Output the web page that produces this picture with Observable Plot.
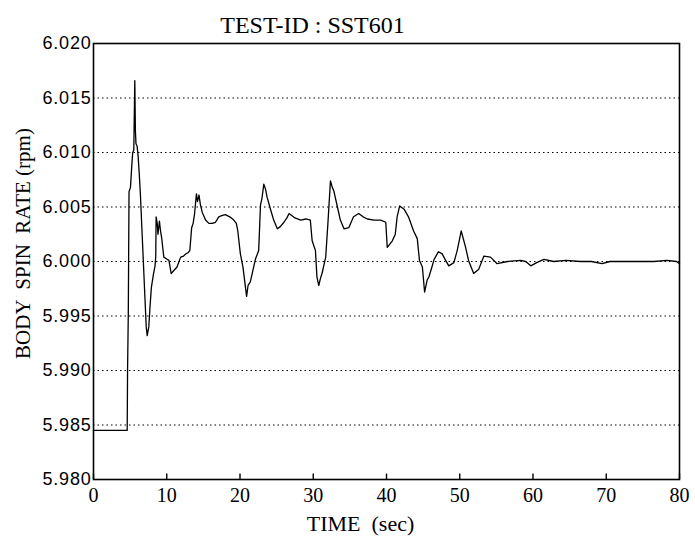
<!DOCTYPE html>
<html>
<head>
<meta charset="utf-8">
<script src="https://cdn.jsdelivr.net/npm/d3@7"></script>
<script src="https://cdn.jsdelivr.net/npm/@observablehq/plot@0.6"></script>
<style>
  html, body { margin: 0; padding: 0; background: #fff; }
  #chart svg { display: block; }
  #chart [aria-label="y-axis tick label"] text { letter-spacing: 0.8px; }
  #chart [aria-label="chart-title"] text { letter-spacing: 1.4px; }
  #chart [aria-label="x-title"] text { letter-spacing: 1.5px; white-space: pre; }
  #chart [aria-label="y-title"] text { white-space: pre; }
</style>
</head>
<body>
<div id="chart"></div>
<script>
const titleText = "TEST-ID : SST601";
const xLabelText = "TIME  (sec)";
const yLabelText = "BODY  SPIN  RATE (rpm)";

const xTicks = [0, 10, 20, 30, 40, 50, 60, 70, 80];
const yTicks = [5.980, 5.985, 5.990, 5.995, 6.000, 6.005, 6.010, 6.015, 6.020];
const innerTickLength = 0.0005;

const time = [
  0, 4.6, 4.65, 4.75, 4.85, 5.05, 5.2, 5.35, 5.5, 5.58, 5.64, 5.72, 5.8, 5.95, 6.1, 6.25, 6.4, 6.7, 7.0, 7.2,
  7.33, 7.55, 7.7, 7.9, 8.15, 8.4, 8.5, 8.55, 8.7, 8.8, 9.0, 9.15, 9.3, 9.6, 10.05, 10.3, 10.6, 11.0, 11.4, 11.9,
  12.3, 12.6, 12.9, 13.15, 13.4, 13.6, 13.8, 14.05, 14.2, 14.4, 14.6, 14.85, 15.3, 15.75, 16.2, 16.65, 17.1, 17.5, 18.0, 18.6,
  19.15, 19.5, 19.7, 20.05, 20.4, 20.9, 21.1, 21.4, 21.7, 22.1, 22.55, 22.8, 23.0, 23.25, 23.5, 23.7, 24.2, 24.6, 25.1, 25.5,
  26.0, 26.4, 26.7, 27.5, 28.3, 29.0, 29.6, 29.85, 30.3, 30.5, 30.75, 31.0, 31.2, 31.7, 32.0, 32.35, 32.6, 32.8, 33.3, 33.7,
  34.2, 34.85, 35.5, 36.2, 36.8, 37.4, 38.3, 39.2, 39.9, 40.1, 40.8, 41.2, 41.45, 41.8, 42.4, 43.0, 43.7, 44.2, 44.5, 44.9,
  45.2, 45.55, 45.8, 46.2, 46.5, 47.1, 47.6, 48.0, 48.5, 49.2, 49.65, 50.2, 50.8, 51.2, 51.9, 52.6, 53.3, 54.2, 55.1, 56.5,
  58.3, 59.0, 59.7, 60.5, 61.5, 62.8, 64.5, 66.5, 68.0, 69.4, 70.5, 71.9, 74.0, 76.5, 78.3, 79.6, 80
];
const rpm = [
  5.9845, 5.9845, 5.9900, 5.9952, 6.0064, 6.0068, 6.0085, 6.0100, 6.0102, 6.0140, 6.0166, 6.0120, 6.0108, 6.0106, 6.0096, 6.0080, 6.0062, 6.0016, 5.9970, 5.9940,
  5.9932, 5.9940, 5.9957, 5.9976, 5.9987, 5.9996, 6.0005, 6.0041, 6.0035, 6.0025, 6.0037, 6.0028, 6.0022, 6.0004, 6.0002, 6.0001, 5.9989, 5.9992, 5.9995, 6.0004,
  6.0005, 6.0007, 6.0008, 6.0010, 6.0031, 6.0035, 6.0044, 6.0062, 6.0055, 6.0061, 6.0052, 6.0045, 6.0038, 6.0035, 6.0035, 6.0036, 6.0041, 6.0042, 6.0043, 6.0041,
  6.0038, 6.0035, 6.0028, 6.0007, 5.9995, 5.9968, 5.9978, 5.9981, 5.9990, 6.0002, 6.0010, 6.0052, 6.0058, 6.0071, 6.0066, 6.0059, 6.0047, 6.0038, 6.0030, 6.0032,
  6.0036, 6.0040, 6.0044, 6.0040, 6.0038, 6.0039, 6.0038, 6.0019, 6.0010, 5.9986, 5.9978, 5.9985, 5.9989, 6.0004, 6.0035, 6.0074, 6.0068, 6.0065, 6.0050, 6.0038,
  6.0030, 6.0031, 6.0041, 6.0044, 6.0041, 6.0039, 6.0038, 6.0038, 6.0036, 6.0013, 6.0019, 6.0025, 6.0041, 6.0051, 6.0048, 6.0041, 6.0028, 6.0021, 6.0001, 5.9995,
  5.9972, 5.9983, 5.9986, 5.9995, 6.0002, 6.0009, 6.0007, 6.0002, 5.9996, 5.9999, 6.0010, 6.0028, 6.0013, 6.0001, 5.9989, 5.9993, 6.0005, 6.0004, 5.9998, 6.0000,
  6.0001, 6.0000, 5.9996, 5.9999, 6.0002, 6.0000, 6.0001, 6.0000, 6.0000, 5.9998, 6.0000, 6.0000, 6.0000, 6.0000, 6.0001, 6.0000, 5.9998
];

const data = time.map((t, i) => ({t, v: rpm[i]}));

const serif = "'Liberation Serif', 'DejaVu Serif', serif";
const sans = "'Liberation Sans', Arial, sans-serif";

const chart = Plot.plot({
  width: 695,
  height: 537,
  marginTop: 43,
  marginRight: 16,
  marginBottom: 58,
  marginLeft: 93,
  style: {background: "#fff", color: "#000", fontFamily: serif},
  x: {domain: [0, 80]},
  y: {domain: [5.980, 6.020]},
  marks: [
    Plot.gridY(yTicks, {stroke: "#000", strokeOpacity: 1, strokeWidth: 1, strokeDasharray: "1.5,3"}),
    Plot.axisY(yTicks, {tickSize: 0, tickPadding: 2, tickFormat: d3.format(".3f"), fontFamily: sans, fontSize: 18, label: null}),
    Plot.axisX(xTicks, {tickSize: 0, tickPadding: 8, tickFormat: d3.format("d"), fontFamily: serif, fontSize: 20, label: null}),
    Plot.ruleX(xTicks, {x: d => d, y1: () => yTicks[0], y2: () => yTicks[0] + innerTickLength, stroke: "#000", strokeWidth: 1.4}),
    Plot.line(data, {x: "t", y: "v", stroke: "#000", strokeWidth: 1.3, strokeLinejoin: "round"}),
    Plot.frame({stroke: "#000", strokeWidth: 1.6}),
    Plot.text([titleText], {frameAnchor: "top", lineAnchor: "middle", textAnchor: "middle", dx: -74, dy: -18, fontSize: 24, fontFamily: serif, text: d => d, ariaLabel: "chart-title"}),
    Plot.text([xLabelText], {frameAnchor: "bottom", lineAnchor: "middle", textAnchor: "middle", dx: -26, dy: 44, fontSize: 22, fontFamily: serif, text: d => d, ariaLabel: "x-title"}),
    Plot.text([yLabelText], {frameAnchor: "left", lineAnchor: "middle", textAnchor: "middle", rotate: -90, dx: -70.5, dy: -18, fontSize: 21, fontFamily: serif, text: d => d, ariaLabel: "y-title"})
  ]
});
document.getElementById("chart").appendChild(chart);
</script>
</body>
</html>
